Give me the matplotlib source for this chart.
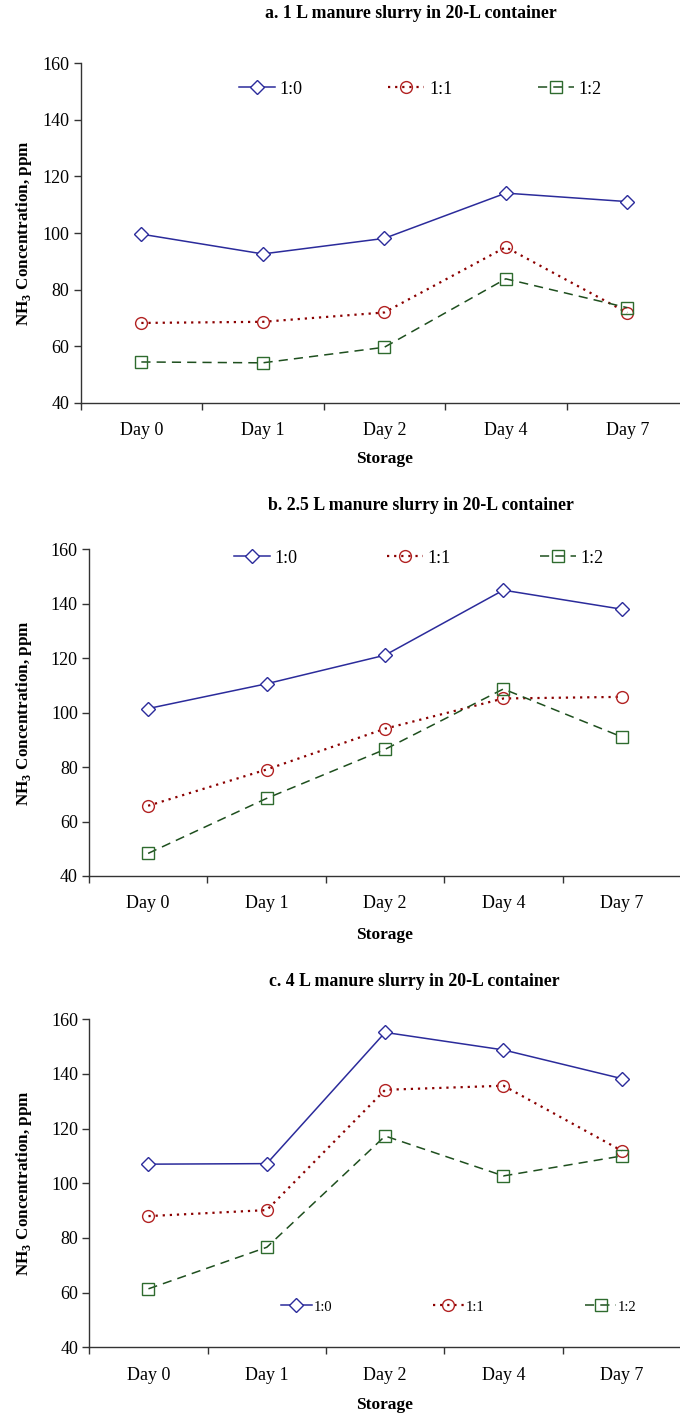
'''
NH3 concentration during storage, three slurry volumes
'''
import matplotlib
matplotlib.use('Agg')
import matplotlib.pyplot as plt
import numpy as np

plt.rcParams['font.family'] = ['Liberation Serif', 'DejaVu Serif']
plt.rcParams['mathtext.fontset'] = 'custom'
plt.rcParams['mathtext.rm'] = 'Liberation Serif'
plt.rcParams['mathtext.bf'] = 'Liberation Serif:bold'

days = ['Day 0', 'Day 1', 'Day 2', 'Day 4', 'Day 7']
ratios = ['1:0', '1:1', '1:2']

# panel a: 1 L slurry
a_10 = [99.6, 92.6, 98.1, 114.1, 111.1]
a_11 = [68.2, 68.6, 71.9, 95.0, 71.8]
a_12 = [54.4, 54.1, 59.6, 83.8, 73.6]
# panel b: 2.5 L slurry
b_10 = [101.5, 110.6, 121.1, 145.0, 138.0]
b_11 = [65.8, 79.1, 94.1, 105.2, 105.8]
b_12 = [48.3, 68.5, 86.5, 108.7, 91.1]
# panel c: 4 L slurry
c_10 = [107.0, 107.2, 155.2, 148.8, 138.3]
c_11 = [88.0, 90.2, 134.2, 135.7, 111.9]
c_12 = [61.4, 76.6, 117.3, 102.7, 110.0]

titles = ['a. 1 L manure slurry in 20-L container',
          'b. 2.5 L manure slurry in 20-L container',
          'c. 4 L manure slurry in 20-L container']

W, H = 680, 1416
styles = [
	dict(color='#2B2B9B', ls='-', marker='D', ms=7.5, mfc='white', mec='#2B2B9B', mew=1.0, lw=1.1),
	dict(color='#8B0000', ls=(0, (1, 2.2)), marker='o', ms=8.5, mfc='none', mec='#B22222', mew=1.0, lw=1.6),
	dict(color='#1E4F1E', ls=(0, (6, 4)), marker='s', ms=8.5, mfc='none', mec='#2E6B2E', mew=1.0, lw=1.1),
]

# pixel layout: axes box, title position, xlabel y, legend (x, y, fontsize, colspacing, textpad, handlelen)
layout = [
	dict(l=80.6, r=688, t=63.3, b=402.7, tx=411, ty=14, xl=459, lg=(239, 89, 13, 4.75, 0.25, 2.0)),
	dict(l=88.9, r=681, t=549.3, b=876, tx=421, ty=505, xl=935, lg=(234, 558, 13, 4.95, 0.25, 2.0)),
	dict(l=89.3, r=681, t=1019.3, b=1347.3, tx=414, ty=981, xl=1405, lg=(281, 1307, 10.5, 6.9, 0.15, 2.1)),
]

data = [[a_10, a_11, a_12], [b_10, b_11, b_12], [c_10, c_11, c_12]]

fig = plt.figure(figsize=(W / 100, H / 100), dpi=100)
x = np.arange(len(days))

for k in range(3):
	L = layout[k]
	ax = fig.add_axes([L['l'] / W, 1 - L['b'] / H, (L['r'] - L['l']) / W, (L['b'] - L['t']) / H])
	handles = []
	for vals, st, name in zip(data[k], styles, ratios):
		h, = ax.plot(x, vals, label=name, clip_on=False, **st)
		handles.append(h)
	ax.set_xlim(-0.5, 4.5)
	ax.set_ylim(40, 160)
	ax.set_yticks(np.arange(40, 161, 20))
	ax.set_xticks(x)
	ax.set_xticklabels(days)
	ax.set_xticks(np.arange(-0.5, 5, 1), minor=True)
	ax.tick_params(axis='x', which='major', length=0, pad=14, labelsize=13)
	ax.tick_params(axis='x', which='minor', length=5, width=1, direction='out', color='#333333')
	ax.tick_params(axis='y', length=5, width=1, direction='out', labelsize=13, pad=3, color='#333333')
	for s in ['top', 'right']:
		ax.spines[s].set_visible(False)
	for s in ['left', 'bottom']:
		ax.spines[s].set_color('#333333')
		ax.spines[s].set_linewidth(1.0)
	fig.text(L['tx'] / W, 1 - L['ty'] / H, titles[k], ha='center', va='center',
			fontsize=12.8, fontweight='bold')
	fig.text(385 / W, 1 - L['xl'] / H, 'Storage', ha='center', va='center',
			fontsize=12.5, fontweight='bold')
	fig.text(24 / W, 1 - ((L['t'] + L['b']) / 2) / H, r'NH$_\mathbf{3}$ Concentration, ppm',
			ha='center', va='center', rotation=90, fontsize=12.3, fontweight='bold')
	lx, ly, fs, cs, htp, hl = L['lg']
	fig.legend(handles=handles, loc='center left', bbox_to_anchor=(lx / W, 1 - ly / H),
			ncol=3, frameon=False, fontsize=fs, columnspacing=cs, handletextpad=htp,
			handlelength=hl, borderpad=0, borderaxespad=0)

fig.savefig('out.png', dpi=100)
